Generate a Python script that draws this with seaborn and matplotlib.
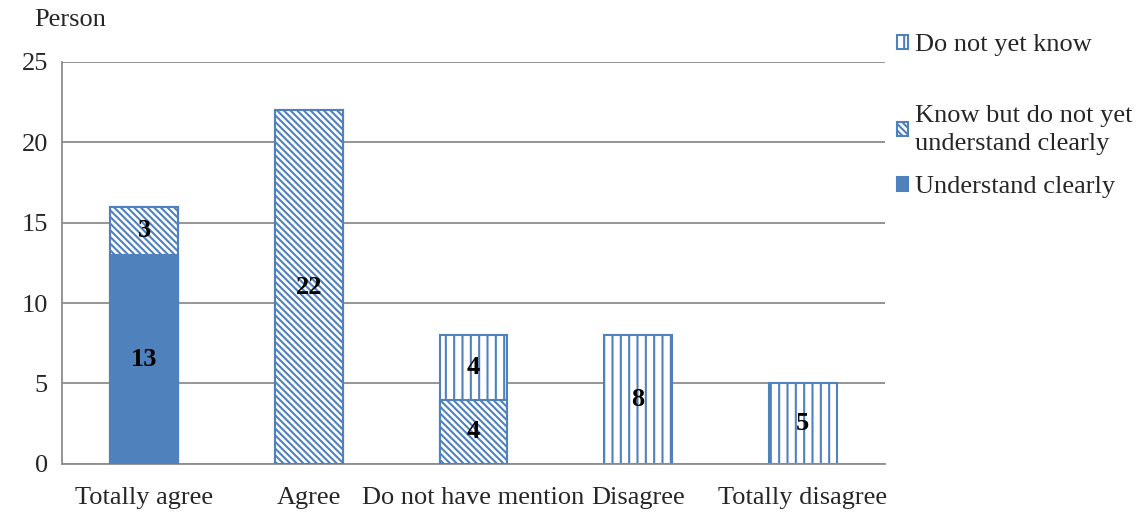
import matplotlib
matplotlib.use("Agg")
import matplotlib.pyplot as plt
from matplotlib.patches import Patch
import seaborn as sns
import pandas as pd
import numpy as np

categories = ["Totally agree", "Agree", "Do not have mention", "Disagree", "Totally disagree"]
understand_clearly = [13, 0, 0, 0, 0]
know_not_clearly = [3, 22, 4, 0, 0]
do_not_yet_know = [0, 0, 4, 8, 5]
y_ticks = [0, 5, 10, 15, 20, 25]
series_names = ["Do not yet know", "Know but do not yet\nunderstand clearly", "Understand clearly"]

sns.set_style("white")
plt.rcParams["font.family"] = ["Liberation Serif", "DejaVu Serif"]
plt.rcParams["hatch.linewidth"] = 1.5

BLUE = "#4F81BD"
GRID = "#8C8C8C"
FS = 19
VHATCH = "||"
DHATCH = "\\" * 5

u = np.array(understand_clearly)
k = np.array(know_not_clearly)
d = np.array(do_not_yet_know)

df = pd.DataFrame({
    "category": categories,
    "top": u + k + d,
    "mid": u + k,
    "low": u,
})

fig = plt.figure(figsize=(11.45, 5.12), dpi=100)
ax = fig.add_axes([0.054, 0.094, 0.719, 0.785])

bw = 0.41
# cumulative layers drawn from the tallest down so each segment covers the one below
sns.barplot(data=df, x="category", y="top", order=categories, ax=ax, width=bw,
            color="white", saturation=1, edgecolor=BLUE, hatch=VHATCH,
            linewidth=1.5, zorder=2)
sns.barplot(data=df, x="category", y="mid", order=categories, ax=ax, width=bw,
            color="white", saturation=1, edgecolor=BLUE, hatch=DHATCH,
            linewidth=1.5, zorder=3)
sns.barplot(data=df, x="category", y="low", order=categories, ax=ax, width=bw,
            color=BLUE, saturation=1, edgecolor=BLUE, linewidth=1.5, zorder=4)

for p in ax.patches:
    if p.get_height() == 0:
        p.set_visible(False)

# segment labels
for i in range(len(categories)):
    base = 0
    for val in (u[i], k[i], d[i]):
        if val > 0:
            ax.text(i, base + val / 2, f"{val}", ha="center", va="center",
                    fontsize=FS, fontweight="bold", color="black", zorder=6)
        base += val

ax.set_ylim(0, 25)
ax.set_xlim(-0.5, len(categories) - 0.5)
ax.set_yticks(y_ticks)
ax.set_yticklabels([str(t) for t in y_ticks], fontsize=FS)
ax.yaxis.grid(True, color=GRID, linewidth=1.3, zorder=0)
ax.set_axisbelow(True)
ax.set_xlabel("")
ax.set_ylabel("")
ax.set_xticks(range(len(categories)))
ax.set_xticklabels(categories, fontsize=FS)
ax.set_xticks(np.arange(-0.5, len(categories)), minor=True)
ax.tick_params(axis="x", which="major", length=0, pad=17)
ax.tick_params(axis="x", which="minor", length=5, color=GRID, width=1.3, direction="out")
ax.tick_params(axis="y", length=6, color=GRID, width=1.3, direction="out", pad=4)

for s in ("top", "right"):
    ax.spines[s].set_visible(False)
for s in ("left", "bottom"):
    ax.spines[s].set_color(GRID)
    ax.spines[s].set_linewidth(1.3)

fig.text(0.061, 0.96, "Person", ha="center", va="center", fontsize=FS)

handles = [
    Patch(facecolor="white", edgecolor=BLUE, hatch=VHATCH, linewidth=1.5),
    Patch(facecolor="white", edgecolor=BLUE, hatch=DHATCH, linewidth=1.5),
    Patch(facecolor=BLUE, edgecolor=BLUE, linewidth=1.5),
]
# one legend entry per block, placed at its own height
legend_y = [45, 130, 187]
for h, lab, yp in zip(handles, series_names, legend_y):
    leg = fig.legend([h], [lab], loc="center left",
                     bbox_to_anchor=(0.783, 1 - yp / 512),
                     frameon=False, fontsize=FS, handlelength=0.45, handleheight=0.45,
                     handletextpad=0.25, borderaxespad=0, borderpad=0)
    for t in leg.get_texts():
        t.set_linespacing(1.3)

fig.savefig("out.png", dpi=100)
